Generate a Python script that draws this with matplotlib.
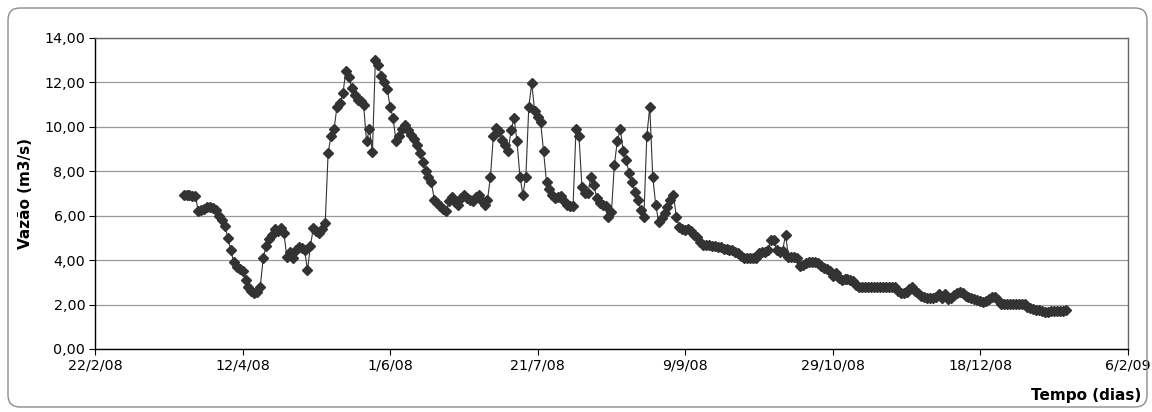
import datetime as dt
import pandas as pd
import matplotlib
matplotlib.use("Agg")
import matplotlib.pyplot as plt
from matplotlib.ticker import FuncFormatter, MultipleLocator
from matplotlib.patches import FancyBboxPatch

# daily discharge series (m3/s), one value per day from the first date
first_day = "2008-03-23"
vazao = [
    6.95, 6.95, 6.95, 6.90, 6.90, 6.20, 6.25, 6.30, 6.38, 6.40,
    6.35, 6.25, 6.00, 5.80, 5.55, 5.00, 4.45, 3.90, 3.70, 3.60,
    3.50, 3.10, 2.80, 2.60, 2.50, 2.55, 2.80, 4.10, 4.65, 4.95,
    5.15, 5.40, 5.30, 5.45, 5.20, 4.15, 4.35, 4.10, 4.45, 4.60,
    4.55, 4.45, 3.55, 4.65, 5.45, 5.30, 5.20, 5.40, 5.65, 8.84,
    9.60, 9.90, 10.90, 11.05, 11.50, 12.50, 12.25, 11.75, 11.45, 11.20,
    11.15, 11.00, 9.35, 9.90, 8.85, 13.00, 12.80, 12.30, 12.00, 11.70,
    10.90, 10.40, 9.35, 9.60, 9.90, 10.10, 9.85, 9.65, 9.45, 9.20,
    8.80, 8.40, 8.00, 7.75, 7.50, 6.70, 6.55, 6.45, 6.30, 6.20,
    6.65, 6.85, 6.60, 6.50, 6.80, 6.95, 6.80, 6.70, 6.65, 6.85,
    6.95, 6.65, 6.50, 6.70, 7.75, 9.60, 9.95, 9.80, 9.40, 9.20,
    8.90, 9.85, 10.40, 9.35, 7.75, 6.95, 7.75, 10.90, 11.95, 10.70,
    10.45, 10.20, 8.90, 7.50, 7.20, 6.95, 6.80, 6.85, 6.90, 6.65,
    6.50, 6.45, 6.45, 9.90, 9.60, 7.30, 7.00, 7.00, 7.75, 7.40,
    6.80, 6.55, 6.50, 6.45, 5.95, 6.15, 8.30, 9.35, 9.90, 8.90,
    8.50, 7.90, 7.50, 7.05, 6.70, 6.25, 5.93, 9.60, 10.90, 7.76,
    6.50, 5.73, 5.88, 6.10, 6.40, 6.70, 6.95, 5.95, 5.50, 5.40,
    5.35, 5.40, 5.30, 5.15, 5.05, 4.80, 4.70, 4.68, 4.66, 4.64,
    4.62, 4.60, 4.58, 4.52, 4.50, 4.47, 4.44, 4.35, 4.30, 4.20,
    4.10, 4.08, 4.08, 4.08, 4.10, 4.30, 4.38, 4.38, 4.45, 4.90,
    4.92, 4.45, 4.38, 4.40, 5.15, 4.16, 4.16, 4.16, 4.10, 3.72,
    3.78, 3.85, 3.93, 3.93, 3.93, 3.85, 3.75, 3.65, 3.58, 3.50,
    3.30, 3.40, 3.20, 3.10, 3.17, 3.15, 3.10, 3.05, 2.90, 2.78,
    2.78, 2.78, 2.78, 2.78, 2.78, 2.78, 2.78, 2.78, 2.78, 2.78,
    2.78, 2.78, 2.60, 2.50, 2.50, 2.55, 2.70, 2.80, 2.62, 2.52,
    2.40, 2.35, 2.30, 2.28, 2.28, 2.35, 2.48, 2.30, 2.48, 2.25,
    2.30, 2.45, 2.50, 2.55, 2.50, 2.38, 2.35, 2.30, 2.25, 2.20,
    2.15, 2.13, 2.15, 2.25, 2.33, 2.33, 2.20, 2.03, 2.01, 2.01,
    2.01, 2.01, 2.01, 2.01, 2.01, 2.01, 1.90, 1.83, 1.79, 1.77,
    1.74, 1.70, 1.68, 1.68, 1.70, 1.70, 1.70, 1.71, 1.72, 1.75,
]
datas = pd.date_range(first_day, periods=len(vazao), freq="D")

x_inicio = dt.datetime(2008, 2, 22)
x_fim = dt.datetime(2009, 2, 6)
passo_dias = 50

fig = plt.figure(figsize=(11.52, 4.12), dpi=100)
ax = fig.add_axes([0.0825, 0.153, 0.8965, 0.755])

ax.plot(datas, vazao, color="#333333", lw=0.8, marker="D", ms=5.2,
        mfc="#333333", mec="#333333", zorder=3)

ax.set_xlim(x_inicio, x_fim)
ax.set_ylim(0, 14)
ax.yaxis.set_major_locator(MultipleLocator(2))
ax.yaxis.set_major_formatter(FuncFormatter(lambda v, p: f"{v:.2f}".replace(".", ",")))
ticks = pd.date_range(x_inicio, x_fim, freq=f"{passo_dias}D")
ax.set_xticks(ticks)
ax.set_xticklabels([f"{d.day}/{d.month}/{d.strftime('%y')}" for d in ticks])

ax.grid(axis="y", color="#9a9a9a", lw=0.9)
ax.set_axisbelow(True)
for s in ["left", "bottom"]:
    ax.spines[s].set_color("black")
    ax.spines[s].set_linewidth(1.0)
for s in ["top", "right"]:
    ax.spines[s].set_color("#666666")
    ax.spines[s].set_linewidth(1.0)
ax.tick_params(axis="both", direction="out", length=4, width=0.8,
               labelsize=10.3, colors="black", pad=3)

ax.set_ylabel("Vazão (m3/s)", fontsize=11, fontweight="bold", labelpad=8)
fig.text(0.943, 0.04, "Tempo (dias)", fontsize=11, fontweight="bold",
         ha="center", va="center")

# rounded frame of the chart area
borda = FancyBboxPatch((0.08, 0.05), 11.39, 3.99,
                       boxstyle="round,pad=0,rounding_size=0.12",
                       transform=fig.dpi_scale_trans, fill=False,
                       ec="#8c8c8c", lw=1.0)
fig.patches.append(borda)

fig.savefig("out.png", dpi=100)
